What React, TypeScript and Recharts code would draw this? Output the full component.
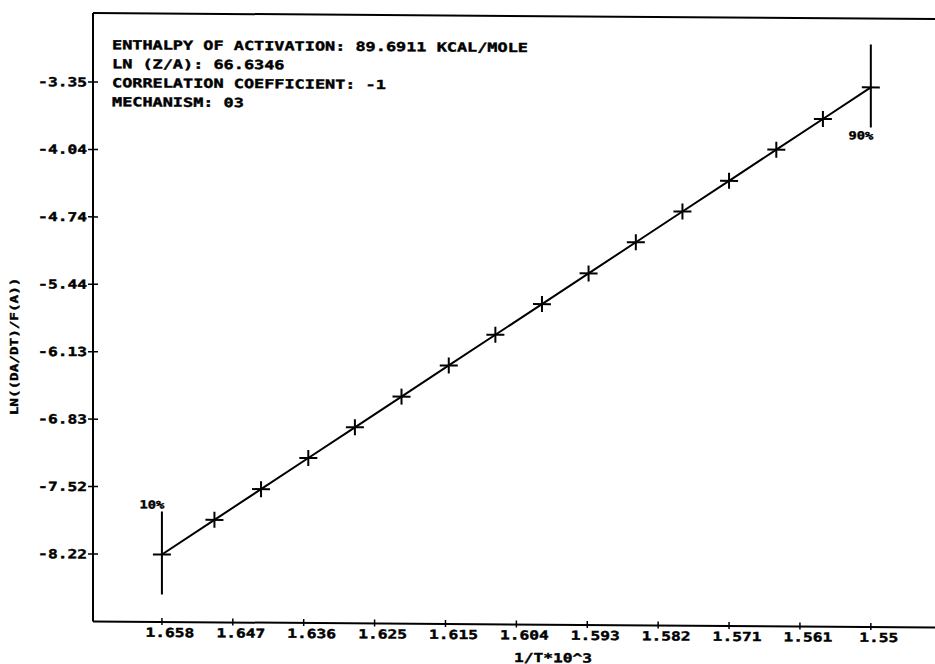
import React from 'react';
import { LineChart, Line, XAxis, YAxis, ReferenceLine } from 'recharts';

// 1/T * 10^3 for each sampled conversion, 10% first, 90% last
const invTemp = [1.658, 1.65, 1.6429, 1.6357, 1.6286, 1.6215, 1.6143, 1.6072, 1.6001, 1.593, 1.5858, 1.5787, 1.5716, 1.5644, 1.5573, 1.55];
// LN((DA/DT)/F(A)) at the same points
const lnRate = [-8.22, -7.859, -7.539, -7.214, -6.894, -6.574, -6.249, -5.929, -5.609, -5.289, -4.964, -4.644, -4.324, -3.999, -3.679, -3.35];
const endLabels = ['10%', '90%'];

const xTicks = [1.658, 1.6472, 1.6364, 1.6256, 1.6148, 1.604, 1.5932, 1.5824, 1.5716, 1.5608, 1.55];
const xTickLabels = ['1.658', '1.647', '1.636', '1.625', '1.615', '1.604', '1.593', '1.582', '1.571', '1.561', '1.55'];
const yTicks = [-8.22, -7.5243, -6.8286, -6.1329, -5.4371, -4.7414, -4.0457, -3.35];
const yTickLabels = ['-8.22', '-7.52', '-6.83', '-6.13', '-5.44', '-4.74', '-4.04', '-3.35'];

const infoLines = [
  'ENTHALPY OF ACTIVATION: 89.6911 KCAL/MOLE',
  'LN (Z/A): 66.6346',
  'CORRELATION COEFFICIENT: -1',
  'MECHANISM: 03',
];

const X_DOMAIN: [number, number] = [1.5387, 1.6685];
const Y_DOMAIN: [number, number] = [-8.9165, -2.638];

const data = invTemp.map((x, i) => ({ x, y: lnRate[i] }));

const FONT = "'DejaVu Sans Mono', monospace";

// plotter-style lettering: bold mono, stretched sideways
const PlotText = ({ x, y, anchor = 'start', size = 12.5, sx = 1.35, rotate = 0, children }: any) => (
  <text
    transform={`translate(${x},${y}) rotate(${rotate}) scale(${sx},1)`}
    textAnchor={anchor}
    fontFamily={FONT}
    fontWeight="bold"
    fontSize={size}
    fill="#000"
    stroke="#000"
    strokeWidth={0.4}
  >
    {children}
  </text>
);

const XTick = ({ x, y, index }: any) => (
  <g>
    <line x1={x} y1={y - 4} x2={x} y2={y + 3} stroke="#000" strokeWidth={1.5} />
    <PlotText x={x + 8} y={y + 15} anchor="middle" sx={1.3}>{xTickLabels[index]}</PlotText>
  </g>
);

const YTick = ({ x, y, index }: any) => (
  <g>
    <line x1={x - 5} y1={y} x2={x + 5} y2={y} stroke="#000" strokeWidth={1.5} />
    <PlotText x={x - 6} y={y + 4.5} anchor="end" sx={1.3}>{yTickLabels[index]}</PlotText>
  </g>
);

const renderDot = (props: any) => {
  const { cx, cy, index } = props;
  const last = index === data.length - 1;
  if (index === 0 || last) {
    return (
      <g key={`d${index}`}>
        <line x1={cx} y1={cy - 43} x2={cx} y2={cy + 40} stroke="#000" strokeWidth={2} />
        <line x1={cx - 9} y1={cy} x2={cx + 9} y2={cy} stroke="#000" strokeWidth={2} />
        <PlotText x={cx - 10} y={last ? cy + 52 : cy - 46} anchor="middle" size={11} sx={1.25}>
          {endLabels[last ? 1 : 0]}
        </PlotText>
      </g>
    );
  }
  return (
    <g key={`d${index}`}>
      <line x1={cx - 9} y1={cy} x2={cx + 9} y2={cy} stroke="#000" strokeWidth={2} />
      <line x1={cx} y1={cy - 8} x2={cx} y2={cy + 8} stroke="#000" strokeWidth={2} />
    </g>
  );
};

export default function App() {
  return (
    <div style={{ position: 'absolute', left: 0, top: 0, width: 935, height: 664, overflow: 'hidden', background: '#fff' }}>
      <div style={{ position: 'relative', width: 960, height: 664, transform: 'skewY(0.4deg)', transformOrigin: '93px 0' }}>
        <LineChart width={960} height={664} data={data} margin={{ top: 13, right: 15, bottom: 2.5, left: 33 }}>
          <XAxis
            dataKey="x"
            type="number"
            reversed
            domain={X_DOMAIN}
            allowDataOverflow
            ticks={xTicks}
            interval={0}
            height={40}
            tickSize={0}
            tickMargin={0}
            tickLine={false}
            axisLine={{ stroke: '#000', strokeWidth: 2 }}
            tick={<XTick />}
          />
          <YAxis
            dataKey="y"
            type="number"
            domain={Y_DOMAIN}
            allowDataOverflow
            ticks={yTicks}
            interval={0}
            width={60}
            tickSize={0}
            tickMargin={0}
            tickLine={false}
            axisLine={{ stroke: '#000', strokeWidth: 2 }}
            tick={<YTick />}
          />
          <ReferenceLine y={Y_DOMAIN[1]} stroke="#000" strokeWidth={2} />
          <Line
            dataKey="y"
            type="linear"
            stroke="#000"
            strokeWidth={2}
            dot={renderDot}
            activeDot={false}
            isAnimationActive={false}
          />
        </LineChart>
        <svg width={960} height={664} style={{ position: 'absolute', left: 0, top: 0, pointerEvents: 'none' }}>
          {infoLines.map((t, i) => (
            <PlotText key={t} x={112} y={49 + i * 19} sx={1.35}>{t}</PlotText>
          ))}
          <PlotText x={18} y={347} anchor="middle" size={11} sx={1.3} rotate={-90}>
            LN((DA/DT)/F(A))
          </PlotText>
          <PlotText x={553} y={659} anchor="middle" sx={1.3}>1/T*10^3</PlotText>
        </svg>
      </div>
    </div>
  );
}
